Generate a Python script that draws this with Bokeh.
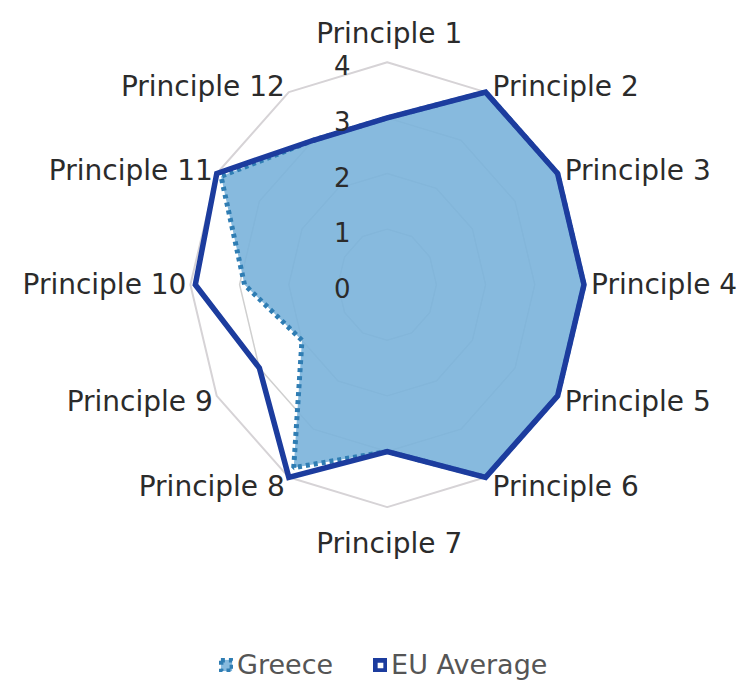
import numpy as np
from bokeh.plotting import figure
from bokeh.models import Range1d, ColumnDataSource, Legend, LegendItem
from bokeh.core.properties import value
from bokeh.embed import file_html
from bokeh.resources import INLINE

# ---- data ----
principles = ["Principle 1", "Principle 2", "Principle 3", "Principle 4",
              "Principle 5", "Principle 6", "Principle 7", "Principle 8",
              "Principle 9", "Principle 10", "Principle 11", "Principle 12"]
greece = [3.0, 4.0, 4.0, 4.0, 4.0, 4.0, 3.0, 3.8, 2.0, 2.9, 3.9, 3.0]
eu_average = [3.0, 4.0, 4.0, 4.0, 4.0, 4.0, 3.0, 4.0, 3.0, 3.9, 4.0, 3.0]
tick_values = [0, 1, 2, 3, 4]
tick_labels = ["0", "1", "2", "3", "4"]
max_value = 4

# ---- layout / scales ----
W, H = 740, 682
sx, sy = 49.2, 55.6          # pixels per unit horizontally / vertically
cx_px, cy_px = 386.7, 284.2   # centre of the radar in pixels (from top-left)

p = figure(width=W, height=H, output_backend="svg", toolbar_location=None,
           x_axis_type=None, y_axis_type=None, min_border=0,
           x_range=Range1d(-cx_px / sx, (W - cx_px) / sx),
           y_range=Range1d(-(H - cy_px) / sy, cy_px / sy))
p.grid.visible = False
p.outline_line_color = None
p.background_fill_color = "white"

n = len(principles)
ang = np.pi / 2 - 2 * np.pi * np.arange(n) / n
cosA, sinA = np.cos(ang), np.sin(ang)

def ring(vals):
    v = np.asarray(vals, dtype=float)
    return list(v * cosA), list(v * sinA)

# gridlines
for t in tick_values[1:]:
    gx, gy = ring([t] * n)
    p.patch(gx, gy, fill_alpha=0, line_color="#d6d3d6" if t == max_value else "#cfcfcf",
            line_width=2 if t == max_value else 1.5)

# Greece (filled, dotted outline)
gx, gy = ring(greece)
r_gr = p.patch(gx, gy, fill_color="#7ab3da", fill_alpha=0.9,
               line_color="#2f7db3", line_width=5, line_dash="4 4")

# EU average (thick line)
ex, ey = ring(eu_average)
r_eu = p.patch(ex, ey, fill_alpha=0, line_color="#1c3c9e", line_width=5.5,
               line_join="miter")

# tick labels
p.text(x=[0] * len(tick_values), y=tick_values, text=tick_labels,
       x_offset=-45, y_offset=3, text_align="center", text_baseline="middle",
       text_font=value("DejaVu Sans"), text_font_size="26px", text_color="#2b2b2b")

# category labels
lx, ly = ring([max_value] * n)
aligns, xo, yo = [], [], []
for c, s in zip(cosA, sinA):
    if abs(c) < 1e-6:
        aligns.append("center")
        xo.append(2)
        yo.append(-29 if s > 0 else 36)
    else:
        aligns.append("left" if c > 0 else "right")
        xo.append(7 if c > 0 else -4)
        yo.append(-7 * s if s > 0 else -11 * s)
src = ColumnDataSource(dict(x=lx, y=ly, t=principles, a=aligns, xo=xo, yo=yo))
p.text(x="x", y="y", text="t", source=src, text_align="a", x_offset="xo", y_offset="yo",
       text_baseline="middle", text_font=value("DejaVu Sans"), text_font_size="28px",
       text_color="#2b2b2b")

legend = Legend(items=[LegendItem(label="Greece", renderers=[r_gr]),
                       LegendItem(label="EU Average", renderers=[r_eu])],
                orientation="horizontal", location=(219, 2),
                label_text_font="DejaVu Sans", label_text_font_size="27px",
                label_text_color="#555555", glyph_width=14, glyph_height=14,
                label_standoff=4, spacing=40, padding=0, margin=0,
                border_line_alpha=0, background_fill_alpha=0)
p.add_layout(legend)

open("out.html", "w").write(file_html(p, INLINE))
